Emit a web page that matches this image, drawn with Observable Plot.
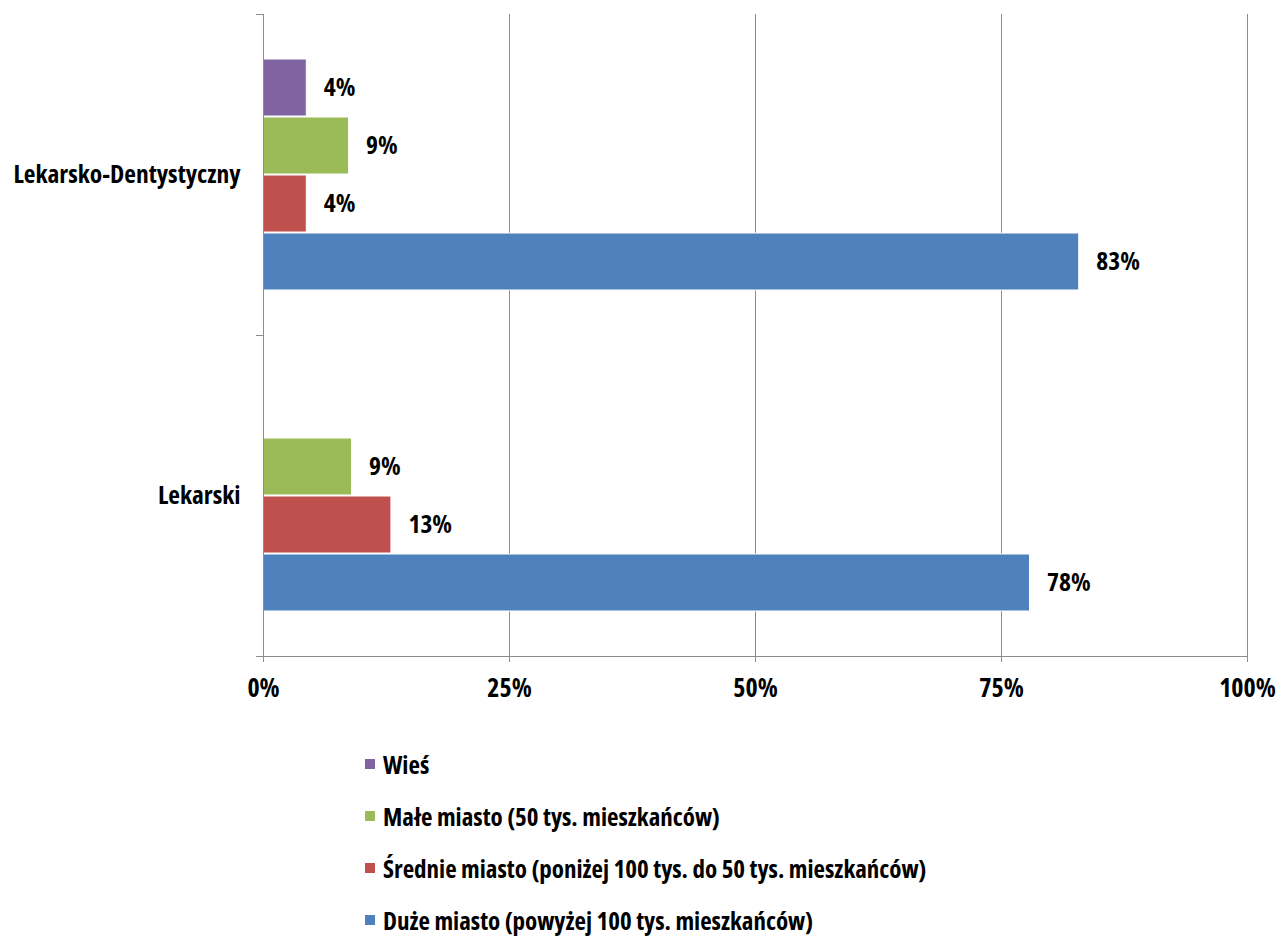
<!DOCTYPE html>
<html>
<head>
<meta charset="utf-8">
<script src="https://cdn.jsdelivr.net/npm/d3@7"></script>
<script src="https://cdn.jsdelivr.net/npm/@observablehq/plot@0.6"></script>
<style>
  html, body { margin: 0; background: #fff; overflow: hidden; font-family: "Open Sans", "DejaVu Sans Condensed", sans-serif; font-stretch: 75%; font-weight: bold; }
  svg text { font-stretch: 75%; }
  #legend { padding-top: 22px; margin-left: 365px; }
  .item { height: 52px; display: flex; align-items: center; font-size: 25px; line-height: 25px; color: #000; }
  .sw { width: 10px; height: 10px; margin-right: 8px; flex: none; }
</style>
</head>
<body>
<div id="chart"></div>
<div id="legend"></div>
<script>
const categories = ["Lekarsko-Dentystyczny", "Lekarski"];
const series = [
  "Wieś",
  "Małe miasto (50 tys. mieszkańców)",
  "Średnie miasto (poniżej 100 tys. do 50 tys. mieszkańców)",
  "Duże miasto (powyżej 100 tys. mieszkańców)"
];
const colors = ["#8064A2", "#9BBB59", "#C0504D", "#4F81BD"];
const valuesLekarskoDentystyczny = [0.044, 0.087, 0.044, 0.829];
const valuesLekarski = [null, 0.09, 0.13, 0.779];
const xTicks = [0, 0.25, 0.5, 0.75, 1];

const rows = [];
series.forEach((s, i) => {
  if (valuesLekarskoDentystyczny[i] != null) rows.push({cat: categories[0], series: s, value: valuesLekarskoDentystyczny[i]});
  if (valuesLekarski[i] != null) rows.push({cat: categories[1], series: s, value: valuesLekarski[i]});
});

const fmt = d3.format(".0%");
const font = `"Open Sans", "DejaVu Sans Condensed", sans-serif`;
const gridColor = "#8c8c8c";

const plot = Plot.plot({
  width: 1286,
  height: 716,
  marginLeft: 263,
  marginRight: 39,
  marginTop: 13,
  marginBottom: 60,
  style: {fontFamily: font, fontSize: "26px", fontWeight: "bold", fontStretch: "75%", color: "#000", background: "#fff", overflow: "visible"},
  x: {domain: [0, 1]},
  y: {domain: series, paddingInner: 0.02, paddingOuter: 0.74, axis: null},
  fy: {domain: categories, padding: 0},
  color: {domain: series, range: colors},
  marks: [
    Plot.ruleX(xTicks.slice(1), {stroke: gridColor, strokeWidth: 1}),
    Plot.barX(rows, {fy: "cat", y: "series", x: "value", fill: "series", stroke: "#fff", strokeWidth: 1, insetLeft: 0.5}),
    Plot.text(rows, {fy: "cat", y: "series", x: "value", text: d => fmt(d.value), textAnchor: "start", dx: 17, fill: "#000", fontSize: 25.5, fontWeight: "bold"}),
    Plot.frame({anchor: "left", stroke: gridColor}),
    Plot.frame({anchor: "top", stroke: gridColor, insetLeft: -7, insetRight: 984}),
    Plot.frame({anchor: "bottom", stroke: gridColor, insetLeft: -7, facetAnchor: "bottom"}),
    Plot.axisX({ticks: xTicks, tickFormat: fmt, tickSize: 6, tickPadding: 16, stroke: gridColor, label: null, fill: "#000", fontSize: 26}),
    Plot.axisFy({anchor: "left", tickSize: 0, tickPadding: 23, label: null, fill: "#000", fontSize: 25.5})
  ]
});
document.getElementById("chart").appendChild(plot);

const legend = document.getElementById("legend");
series.forEach((s, i) => {
  const item = document.createElement("div");
  item.className = "item";
  const sw = document.createElement("span");
  sw.className = "sw";
  sw.style.background = colors[i];
  const t = document.createElement("span");
  t.textContent = s;
  item.appendChild(sw);
  item.appendChild(t);
  legend.appendChild(item);
});
</script>
</body>
</html>
